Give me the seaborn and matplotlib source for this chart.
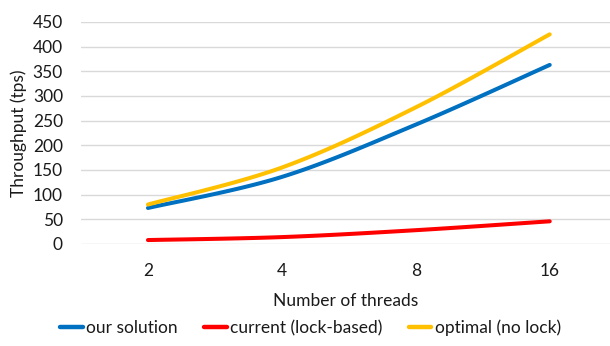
import numpy as np
import pandas as pd
import matplotlib
matplotlib.use("Agg")
import matplotlib.pyplot as plt
import seaborn as sns

threads = ["2", "4", "8", "16"]
our_solution = [73, 136, 242, 363]
current_lock = [8, 14, 28, 46]
optimal_no_lock = [80, 155, 277, 425]

series_names = ["our solution", "current (lock-based)", "optimal (no lock)"]
series_values = [our_solution, current_lock, optimal_no_lock]
colors = ["#0070C0", "#FF0000", "#FFC000"]
y_ticks = list(range(0, 451, 50))


def smooth(y, steps=40):
    """Catmull-Rom style smoothing through the points (like a spreadsheet's smoothed line)."""
    y = np.asarray(y, dtype=float)
    x = np.arange(len(y), dtype=float)
    pts = np.column_stack([x, y])
    out = []
    n = len(pts)
    for i in range(n - 1):
        p0 = pts[i - 1] if i > 0 else pts[i]
        p1 = pts[i]
        p2 = pts[i + 1]
        p3 = pts[i + 2] if i + 2 < n else pts[i + 1]
        c1 = p1 + (p2 - p0) / 6.0
        c2 = p2 - (p3 - p1) / 6.0
        t = np.linspace(0, 1, steps, endpoint=(i == n - 2))[:, None]
        seg = ((1 - t) ** 3) * p1 + 3 * ((1 - t) ** 2) * t * c1 + 3 * (1 - t) * t ** 2 * c2 + t ** 3 * p2
        out.append(seg)
    out = np.vstack(out)
    return out[:, 0], out[:, 1]


frames = []
for name, vals in zip(series_names, series_values):
    sx, sy = smooth(vals)
    frames.append(pd.DataFrame({"pos": sx, "value": sy, "series": name}))
df = pd.concat(frames, ignore_index=True)

sns.set_theme(style="white")
plt.rcParams["font.family"] = ["Lato", "DejaVu Sans"]

fig = plt.figure(figsize=(6.1, 3.46), dpi=100)
ax = fig.add_axes([81 / 610, (346 - 244) / 346, 1 - 81 / 610, 222 / 346])

sns.lineplot(data=df, x="pos", y="value", hue="series", hue_order=series_names,
             palette=colors, sort=False, estimator=None,
             linewidth=2.9, ax=ax, legend=True, solid_capstyle="round")

ax.set_xlim(-0.5, 3.45)
ax.set_ylim(0, 450)
ax.set_yticks(y_ticks)
ax.set_xticks(range(len(threads)))
ax.set_xticklabels(threads)
ax.yaxis.grid(True, color="#D9D9D9", linewidth=1)
ax.xaxis.grid(False)
for s in ax.spines.values():
    s.set_visible(False)
ax.tick_params(axis="both", length=0, labelsize=12.5, colors="#1a1a1a")
ax.tick_params(axis="x", pad=14)
ax.tick_params(axis="y", pad=13)
ax.set_xlabel("Number of threads", fontsize=12.5, color="#1a1a1a", labelpad=10)
ax.set_ylabel("Throughput (tps)", fontsize=12.5, color="#1a1a1a", labelpad=4)

handles, labels = ax.get_legend_handles_labels()
ax.get_legend().remove()
leg = fig.legend(handles, labels, loc="center", bbox_to_anchor=(310.5 / 610, 1 - 328 / 346),
                 ncol=3, frameon=False, fontsize=12.5,
                 handlelength=1.3, handletextpad=0.2, columnspacing=1.5)
for t in leg.get_texts():
    t.set_color("#1a1a1a")
for h in leg.get_lines():
    h.set_linewidth(3.2)

fig.savefig("out.png", dpi=100)
